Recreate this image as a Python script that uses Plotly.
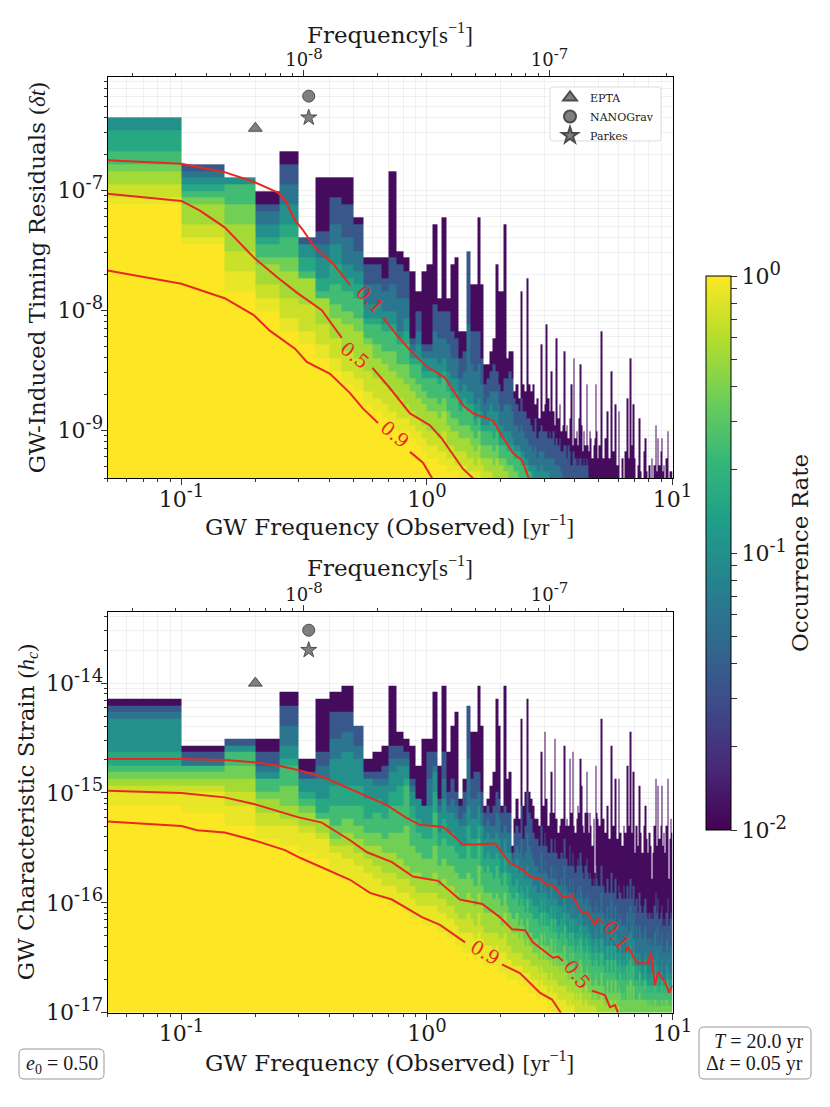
import numpy as np
import plotly.graph_objects as go

# Constants
WIDTH = 830
HEIGHT = 1107
SERIF = "DejaVu Serif"
MATH = "Liberation Serif"
RED = "#e8291f"
GRID = "rgba(0,0,0,0.055)"
INK = "#1a1a1a"
SECONDS_PER_YEAR = 3.156e7
N_ROWS = 60

# GW frequency bin edges [1/yr]
FREQ_EDGES = [round(0.05 * k, 2) for k in range(1, 101)] + [round(5.0 + 0.1 * k, 1) for k in range(1, 51)]

# log10 axis ranges
P1_YRANGE = [-9.4, -6.06]
P2_YRANGE = [-17.0, -13.35]

# occurrence rate painted in each band, from the top of a column downwards
BAND_RATES = [0.0115, 0.035, 0.06, 0.1, 0.16, 0.24, 0.37, 0.53, 0.7, 0.87, 1.0]

# Upper amplitude bin of each band per frequency bin: timing residuals panel
P1_TOP = [54, 47, 45, 43, 49, 36, 45, 45, 45, 39,
          33, 33, 33, 46, 34, 33, 31, 28, 31, 32,
          38, 27, 39, 27, 32, 33, 22, 22, 34, 29,
          29, 39, 29, 17, 17, 19, 21, 32, 28, 28,
          38, 18, 19, 19, 13, 14, 12, 28, 14, 13,
          30, 14, 13, 14, 11, 12, 9, 20, 10, 11,
          23, 12, 10, 16, 10, 8, 21, 9, 11, 7,
          8, 19, 7, 8, 6, 9, 14, 5, 18, 6,
          7, 5, 9, 17, 8, 4, 7, 5, 14, 5,
          4, 7, 6, 3, 5, 6, 14, 7, 3,
          5, 22, 3, 6, 10, 3, 16, 4, 11, 2,
          10, 0, 3, 0, 4, 12, 3, 18, 5, 11,
          3, 0, 2, 9, 1, 0, 4, 6, 1, 0,
          2, 0, 3, 0, 2, 8, 1, 6, 2, 4,
          6, 1, 2, 0, 3, 7, 0, 1, 1, 1]
P1_L1 = [54, 47, 45, 41, 47, 36, 37, 42, 41, 38,
         32, 32, 30, 33, 32, 31, 21, 25, 20, 20,
         26, 25, 25, 25, 22, 21, 18, 19, 34, 22,
         22, 22, 18, 14, 15, 16, 17, 16, 14, 13,
         15, 15, 16, 15, 12, 11, 10, 12, 10, 10,
         9, 9, 8, 7, 9, 6, 7, 8, 7, 7,
         7, 6, 7, 6, 7, 5, 6, 5, 6, 4,
         4, 5, 5, 3, 5, 4, 2, 4, 4, 3,
         2, 3, 2, 3, 2, 2, 3, 2, 3, 2]
P1_M2 = [54, 46, 45, 40, 44, 35, 35, 38, 36, 34,
         29, 29, 28, 29, 27, 27, 20, 22, 19, 19,
         22, 21, 21, 20, 18, 18, 15, 16, 23, 17,
         16, 17, 14, 11, 12, 13, 13, 13, 11, 10,
         11, 11, 11, 10, 8, 8, 7, 8, 7, 6,
         6, 5, 5, 4, 5, 3, 4, 4, 4, 3,
         3, 3, 3, 3, 3, 2, 2, 2, 2, 1]
P1_L2 = [54, 45, 45, 38, 41, 35, 33, 35, 32, 31,
         26, 26, 25, 25, 22, 24, 19, 20, 18, 18,
         18, 17, 18, 16, 15, 15, 13, 14, 13, 13,
         11, 12, 10, 9, 10, 11, 10, 10, 8, 8,
         7, 7, 7, 6, 5, 5, 5, 4, 4, 3,
         3, 2, 2, 2, 2, 1, 1, 2, 1, 1, 1, 1]
P1_M3 = [52, 44, 44, 36, 38, 33, 30, 32, 30, 29,
         24, 24, 23, 23, 21, 22, 18, 18, 16, 16,
         16, 15, 16, 14, 13, 13, 11, 12, 11, 11,
         9, 10, 8, 8, 8, 9, 8, 8, 6, 6,
         6, 5, 5, 5, 4, 4, 4, 3, 3, 2, 2, 1, 1]
P1_L3 = [49, 43, 44, 35, 36, 31, 28, 29, 28, 27,
         23, 23, 22, 22, 20, 20, 17, 17, 15, 15,
         15, 14, 15, 13, 12, 12, 10, 11, 10, 10,
         8, 9, 7, 7, 7, 7, 6, 7, 5, 5,
         5, 4, 4, 4, 3, 3, 3, 2, 2, 2, 1, 1]
P1_M4 = [47, 42, 41, 33, 33, 30, 27, 26, 25, 24,
         21, 20, 19, 19, 17, 17, 15, 14, 13, 12,
         12, 11, 12, 10, 9, 9, 8, 8, 8, 7,
         6, 7, 5, 5, 5, 5, 4, 5, 3, 3, 3, 2, 2, 2, 1, 1]
P1_L4 = [46, 41, 38, 32, 31, 30, 27, 24, 23, 22,
         20, 18, 17, 16, 15, 14, 13, 12, 11, 10,
         10, 9, 10, 8, 7, 7, 6, 6, 6, 5,
         4, 5, 3, 3, 3, 3, 2, 3, 2, 2, 1, 1]
P1_M5 = [44, 38, 34, 29, 27, 26, 23, 21, 19, 18,
         16, 15, 14, 13, 12, 11, 10, 9, 8, 7,
         7, 6, 7, 5, 5, 4, 4, 4, 3, 3, 2, 3, 2, 1, 1, 1]
P1_L5 = [42, 36, 31, 27, 24, 22, 20, 18, 16, 15,
         13, 12, 11, 10, 9, 9, 8, 7, 6, 5,
         5, 4, 4, 3, 3, 2, 2, 2, 1, 1, 1, 1]
P1_L6 = [41, 35, 28, 25, 22, 20, 18, 16, 14, 13,
         11, 10, 9, 8, 7, 7, 6, 5, 4, 3,
         3, 2, 2, 1, 1, 1]

# Same for the characteristic strain panel
P2_TOP = [47, 40, 41, 41, 48, 38, 47, 48, 49, 43,
          38, 39, 40, 49, 42, 41, 40, 37, 41, 41,
          48, 37, 49, 39, 43, 45, 32, 35, 46, 42,
          42, 49, 43, 31, 32, 34, 36, 47, 43, 31,
          49, 35, 36, 25, 29, 32, 29, 44, 31, 33,
          47, 33, 32, 31, 29, 29, 28, 39, 31, 42,
          32, 28, 30, 36, 30, 41, 29, 27, 28, 29,
          29, 40, 28, 29, 28, 38, 30, 39, 28, 27,
          29, 31, 30, 38, 34, 28, 27, 30, 36, 30,
          27, 30, 28, 25, 29, 21, 37, 30, 29,
          28, 44, 29, 27, 31, 26, 40, 28, 35, 26,
          35, 27, 25, 28, 27, 37, 28, 42, 27, 36,
          24, 28, 25, 34, 27, 24, 28, 31, 26, 24,
          27, 25, 20, 24, 28, 35, 25, 34, 26, 28,
          34, 25, 27, 24, 28, 35, 20, 26, 29, 27]
P2_L1 = [46, 39, 41, 39, 46, 36, 39, 45, 45, 43,
         36, 36, 37, 40, 40, 39, 35, 31, 31, 39,
         39, 32, 39, 33, 35, 33, 31, 33, 46, 35,
         36, 36, 33, 30, 31, 30, 31, 33, 32, 30,
         31, 30, 30, 24, 27, 28, 27, 31, 26, 28,
         33, 30, 29, 27, 26, 26, 25, 28, 25, 27,
         25, 24, 24, 26, 24, 26, 24, 23, 23, 24,
         23, 26, 23, 23, 22, 25, 22, 24, 22, 21,
         22, 23, 22, 24, 22, 21, 20, 22, 23, 21,
         20, 21, 20, 19, 20, 19, 22, 20, 19,
         19, 22, 19, 18, 20, 18, 21, 18, 20, 17,
         19, 18, 17, 19, 17, 19, 17, 20, 17, 19,
         16, 17, 15, 18, 16, 15, 16, 17, 15, 14,
         15, 14, 15, 14, 16, 18, 15, 17, 14, 15,
         16, 13, 14, 13, 15, 17, 13, 14, 15, 14]
P2_M2 = [45, 38, 40, 37, 43, 35, 37, 41, 42, 40,
         35, 35, 35, 38, 38, 38, 34, 31, 31, 35,
         37, 31, 35, 31, 32, 31, 29, 30, 38, 32,
         32, 33, 30, 28, 29, 28, 28, 30, 29, 27,
         28, 27, 27, 23, 24, 25, 24, 26, 23, 24,
         27, 25, 24, 23, 22, 22, 21, 24, 21, 23,
         21, 20, 20, 22, 20, 22, 20, 19, 19, 20,
         19, 22, 19, 19, 18, 20, 18, 20, 18, 17,
         18, 19, 17, 19, 18, 17, 16, 17, 18, 17,
         16, 17, 16, 15, 16, 15, 17, 16, 15,
         15, 18, 15, 14, 16, 14, 17, 14, 16, 13,
         15, 14, 13, 14, 13, 15, 12, 16, 13, 15,
         11, 13, 11, 13, 12, 11, 12, 13, 11, 10,
         11, 10, 11, 10, 12, 13, 10, 13, 10, 11,
         12, 9, 10, 9, 11, 12, 9, 10, 10, 9]
P2_L2 = [44, 37, 40, 36, 40, 35, 35, 38, 39, 38,
         35, 34, 34, 36, 37, 37, 33, 32, 31, 31,
         36, 30, 32, 30, 30, 29, 28, 28, 31, 29,
         29, 31, 28, 26, 27, 26, 26, 27, 26, 24,
         26, 24, 24, 22, 22, 23, 21, 22, 21, 20,
         22, 20, 20, 19, 19, 18, 18, 20, 18, 19,
         18, 17, 17, 19, 17, 18, 17, 16, 16, 16,
         15, 18, 16, 15, 15, 16, 14, 16, 14, 14,
         14, 15, 13, 15, 14, 13, 13, 13, 14, 13,
         12, 13, 12, 11, 12, 11, 13, 12, 11,
         11, 14, 11, 10, 12, 10, 13, 10, 12, 9,
         11, 10, 9, 10, 9, 11, 8, 12, 9, 11,
         7, 9, 7, 9, 8, 7, 8, 9, 7, 6,
         7, 6, 8, 6, 8, 9, 6, 9, 6, 7,
         8, 5, 6, 5, 7, 8, 5, 6, 6, 5]
P2_M3 = [39, 37, 39, 35, 38, 33, 32, 34, 34, 34,
         32, 32, 31, 33, 34, 35, 31, 29, 28, 28,
         33, 27, 29, 27, 27, 26, 25, 25, 28, 26,
         26, 28, 25, 23, 24, 23, 23, 24, 23, 21,
         23, 21, 21, 19, 19, 20, 18, 19, 18, 17,
         19, 17, 17, 16, 16, 16, 15, 17, 15, 17,
         15, 15, 14, 16, 14, 16, 14, 13, 13, 14,
         12, 15, 13, 13, 12, 14, 12, 14, 12, 11,
         12, 12, 11, 13, 12, 11, 10, 11, 12, 11,
         10, 11, 10, 9, 10, 9, 11, 10, 9,
         9, 11, 9, 8, 10, 8, 10, 8, 10, 7,
         9, 8, 7, 8, 7, 9, 6, 10, 7, 9,
         5, 7, 5, 7, 6, 5, 6, 7, 5, 4,
         5, 4, 6, 4, 6, 7, 4, 7, 4, 5,
         6, 4, 5, 4, 5, 6, 4, 4, 5, 4]
P2_L3 = [37, 37, 39, 35, 37, 32, 30, 31, 31, 31,
         29, 30, 29, 31, 31, 34, 29, 27, 26, 26,
         30, 25, 26, 25, 25, 24, 23, 23, 25, 23,
         23, 26, 22, 21, 22, 21, 20, 22, 20, 19,
         21, 19, 18, 17, 17, 18, 16, 17, 16, 15,
         17, 15, 15, 14, 14, 14, 13, 15, 13, 15,
         13, 13, 12, 14, 12, 14, 12, 11, 11, 12,
         10, 13, 11, 11, 10, 12, 10, 12, 10, 9,
         10, 10, 9, 11, 10, 9, 8, 9, 10, 9,
         8, 9, 8, 7, 8, 7, 9, 8, 7,
         7, 9, 7, 6, 8, 6, 8, 6, 8, 5,
         7, 6, 5, 6, 5, 7, 5, 8, 5, 7,
         4, 5, 4, 6, 4, 4, 5, 5, 4, 3,
         4, 3, 4, 3, 4, 5, 3, 5, 3, 4,
         5, 3, 4, 3, 4, 5, 3, 3, 4, 3]
P2_M4 = [36, 36, 37, 33, 34, 31, 29, 28, 29, 28,
         27, 27, 26, 27, 27, 28, 25, 24, 23, 23,
         25, 22, 23, 22, 22, 21, 20, 20, 21, 20,
         19, 22, 19, 18, 18, 18, 17, 18, 17, 16,
         18, 16, 15, 14, 14, 15, 13, 14, 13, 12,
         14, 12, 12, 11, 11, 11, 10, 12, 10, 12,
         10, 10, 9, 11, 9, 11, 9, 9, 8, 9,
         8, 10, 8, 8, 7, 9, 7, 9, 7, 6,
         7, 7, 6, 8, 7, 6, 5, 6, 7, 6,
         5, 6, 5, 4, 5, 4, 6, 5, 4,
         4, 6, 4, 3, 5, 3, 5, 3, 5, 3,
         4, 3, 2, 3, 2, 4, 2, 5, 2, 4,
         2, 2, 2, 3, 2, 2, 2, 2, 2, 1,
         2, 1, 2, 1, 2, 2, 1, 2, 1, 2,
         2, 1, 2, 1, 2, 2, 1, 1, 2, 1]
P2_L4 = [35, 35, 35, 32, 31, 30, 29, 26, 27, 26,
         25, 25, 24, 24, 23, 22, 21, 21, 20, 20,
         21, 19, 20, 19, 19, 18, 17, 17, 18, 17,
         16, 18, 16, 15, 15, 15, 15, 15, 14, 13,
         15, 13, 13, 12, 12, 12, 11, 12, 11, 10,
         11, 10, 10, 9, 9, 9, 8, 10, 8, 9,
         8, 8, 7, 8, 7, 8, 7, 7, 6, 7,
         6, 7, 6, 6, 5, 6, 5, 6, 5, 4,
         5, 4, 4, 5, 4, 3, 3, 4, 4, 3,
         3, 3, 3, 2, 3, 2, 3, 2, 2,
         2, 3, 2, 1, 2, 1, 2, 1, 2, 1, 1]
P2_M5 = [34, 34, 33, 30, 29, 28, 27, 25, 25, 24,
         23, 22, 21, 21, 20, 20, 19, 18, 18, 18,
         18, 17, 17, 16, 16, 15, 14, 14, 15, 14,
         13, 15, 13, 12, 12, 12, 12, 12, 11, 11,
         12, 10, 10, 9, 9, 9, 9, 9, 8, 8,
         8, 8, 7, 7, 7, 7, 6, 7, 6, 6,
         6, 5, 5, 6, 5, 5, 5, 4, 4, 4,
         4, 4, 4, 3, 3, 4, 3, 3, 3, 2,
         3, 2, 2, 3, 2, 1, 1, 2, 2, 1,
         1, 1, 1, 1, 1, 1, 1]
P2_L5 = [33, 33, 31, 28, 28, 27, 26, 24, 23, 22,
         21, 20, 19, 19, 18, 18, 17, 16, 16, 16,
         16, 15, 15, 14, 14, 13, 12, 12, 12, 12,
         11, 12, 11, 10, 10, 10, 9, 10, 9, 9,
         9, 8, 8, 7, 7, 7, 7, 7, 6, 6,
         6, 6, 5, 5, 5, 5, 4, 5, 4, 4,
         4, 3, 3, 4, 3, 3, 3, 2, 2, 2,
         2, 2, 2, 1, 1, 2, 1, 1, 1]
P2_L6 = [31, 30, 28, 26, 25, 24, 23, 21, 20, 19,
         18, 18, 17, 16, 16, 15, 14, 14, 13, 13,
         13, 12, 12, 11, 11, 10, 10, 9, 9, 9,
         8, 9, 8, 7, 7, 7, 7, 7, 6, 6,
         6, 5, 5, 5, 5, 5, 4, 5, 4, 4,
         4, 3, 3, 3, 3, 2, 2, 3, 2, 2,
         2, 1, 1, 1]

# Occurrence rate contours: frequency [1/yr] and log10 amplitude, None at label gaps
P1_C01_F = [0.05, 0.1, 0.15, 0.197, 0.247, 0.264, 0.29, 0.312, 0.35, 0.414, 0.486, None,
            0.662, 0.755, 0.869, 1.0, 1.18, 1.40, 1.54, 1.86, 2.04, 2.24, 2.44, 2.60]
P1_C01_Y = [-6.75, -6.78, -6.85, -6.93, -7.02, -7.08, -7.25, -7.33, -7.48, -7.61, -7.79, None,
            -8.06, -8.21, -8.35, -8.47, -8.56, -8.79, -8.86, -8.92, -9.06, -9.19, -9.25, -9.40]
P1_C05_F = [0.05, 0.1, 0.119, 0.15, 0.197, 0.247, 0.298, 0.373, 0.45, None,
            0.60, 0.707, 0.853, 1.03, 1.15, 1.28, 1.40, 1.54]
P1_C05_Y = [-7.03, -7.09, -7.17, -7.31, -7.56, -7.73, -7.86, -8.0, -8.23, None,
            -8.48, -8.65, -8.86, -8.96, -9.07, -9.21, -9.32, -9.40]
P1_C09_F = [0.05, 0.1, 0.15, 0.197, 0.229, 0.29, 0.324, 0.403, 0.486, 0.549, 0.632, None,
            0.853, 0.963, 1.05]
P1_C09_Y = [-7.67, -7.78, -7.90, -8.04, -8.17, -8.32, -8.43, -8.53, -8.69, -8.82, -8.94, None,
            -9.18, -9.27, -9.40]
P2_C01_F = [0.05, 0.1, 0.15, 0.197, 0.247, 0.298, 0.373, 0.486, 0.586, 0.687, 0.829, 0.936, 1.16,
            1.21, 1.40, 1.61, 1.89, 2.18, 2.39, 2.68, 2.89, 3.08, 3.26, 3.58, 3.90, 4.28, 4.48,
            4.83, 4.97, 5.21, None, 6.41, 6.59, 7.17, 7.95, 8.17, 8.49, 8.73, 9.32, 9.68, 10.0]
P2_C01_Y = [-14.69, -14.69, -14.70, -14.72, -14.75, -14.79, -14.85, -14.96, -15.04, -15.11, -15.23,
            -15.29, -15.31, -15.34, -15.47, -15.47, -15.46, -15.64, -15.68, -15.77, -15.78, -15.84,
            -15.84, -15.95, -15.93, -16.09, -16.08, -16.20, -16.14, -16.18, None, -16.45, -16.40,
            -16.55, -16.55, -16.45, -16.75, -16.63, -16.72, -16.82, -16.75]
P2_C05_F = [0.05, 0.1, 0.15, 0.197, 0.298, 0.373, 0.486, 0.57, 0.72, 0.877, 1.11, 1.36, 1.68, 1.98,
            2.22, 2.51, 2.70, 3.26, 3.42, 3.58, None, 4.70, 5.31, 5.56, 5.83, 6.0]
P2_C05_Y = [-14.98, -15.0, -15.04, -15.10, -15.22, -15.27, -15.43, -15.54, -15.63, -15.76, -15.80,
            -15.97, -16.01, -16.13, -16.24, -16.25, -16.36, -16.50, -16.49, -16.53, None, -16.80,
            -16.84, -16.95, -16.93, -17.0]
P2_C09_F = [0.05, 0.1, 0.116, 0.15, 0.197, 0.264, 0.304, 0.486, 0.586, 0.72, 0.954, 1.13, 1.43, None,
            2.02, 2.39, 2.89, 3.23, 3.51]
P2_C09_Y = [-15.26, -15.30, -15.34, -15.36, -15.43, -15.52, -15.59, -15.79, -15.91, -15.97, -16.13,
            -16.20, -16.36, None, -16.56, -16.64, -16.82, -16.88, -17.0]

# Contour labels: text, log10 frequency, log10 amplitude, angle
P1_LABELS = [("0.1", -0.232, -7.91, 46), ("0.5", -0.293, -8.37, 40), ("0.9", -0.13, -9.03, 40)]
P2_LABELS = [("0.9", 0.236, -16.45, 30), ("0.5", 0.611, -16.65, 52), ("0.1", 0.774, -16.29, 52)]

# Pulsar timing array limits
PTA_NAMES = ["EPTA", "NANOGrav", "Parkes"]
PTA_SYMBOLS = ["triangle-up", "circle", "star"]
PTA_SIZES = [12, 12, 12]
PTA_FREQS = [0.2, 0.33, 0.33]
P1_PTA_VALUES = [3.28e-7, 6.07e-7, 4.02e-7]
P2_PTA_VALUES = [1.0e-14, 3.03e-14, 2.0e-14]

COLORBAR_DECADES = [-2, -1]

X_TITLE = f'GW Frequency (Observed) <span style="font-family:{MATH}">[yr<sup>−1</sup>]</span>'
TOP_TITLE = f'Frequency<span style="font-family:{MATH}">[s<sup>−1</sup>]</span>'


def tick_label(exponent, sup_size):
    return f'10<sup><span style="font-size:{sup_size}px">{exponent}</span></sup>'


def band_grid(levels):
    # stack the bands top down, each one overwriting the column below its upper bin
    grid = np.full((N_ROWS, len(FREQ_EDGES) - 1), np.nan)
    for heights, rate in zip(levels, BAND_RATES):
        for col, height in enumerate(heights):
            grid[:height, col] = np.log10(rate)
    return grid


def powers(values):
    return [None if v is None else 10.0 ** v for v in values]


def minor_ticks(low, high):
    ticks = []
    for exponent in range(int(np.floor(low)), int(np.ceil(high)) + 1):
        for m in range(2, 10):
            value = m * 10.0 ** exponent
            if low <= np.log10(value) <= high:
                ticks.append(value)
    return ticks


def major_ticks(low, high, sup_size):
    exps = [e for e in range(int(np.floor(low)), int(np.ceil(high)) + 1) if low - 1e-6 <= e <= high + 1e-6]
    return [10.0 ** e for e in exps], [tick_label(e, sup_size) for e in exps]


def rounded(x0, y0, x1, y1, r=5):
    # pixel box to a rounded rectangle path in paper coordinates
    def px(x, y):
        return f"{x / WIDTH:.5f},{1 - y / HEIGHT:.5f}"

    return (
        f"M{px(x0 + r, y0)} L{px(x1 - r, y0)} Q{px(x1, y0)} {px(x1, y0 + r)} "
        f"L{px(x1, y1 - r)} Q{px(x1, y1)} {px(x1 - r, y1)} L{px(x0 + r, y1)} "
        f"Q{px(x0, y1)} {px(x0, y1 - r)} L{px(x0, y0 + r)} Q{px(x0, y0)} {px(x0 + r, y0)} Z"
    )


def add_panel(fig, xname, yname, topname, yrange, levels, contours, labels, pta_values, showlegend):
    step = (yrange[1] - yrange[0]) / N_ROWS
    y_edges = [10.0 ** (yrange[0] + step * r) for r in range(N_ROWS + 1)]
    fig.add_trace(
        go.Heatmap(
            x=FREQ_EDGES,
            y=y_edges,
            z=band_grid(levels),
            coloraxis="coloraxis",
            hoverinfo="skip",
            xaxis=xname,
            yaxis=yname,
        )
    )
    for freqs, values in contours:
        fig.add_trace(
            go.Scatter(
                x=freqs,
                y=powers(values),
                mode="lines",
                line=dict(color=RED, width=2),
                connectgaps=False,
                showlegend=False,
                hoverinfo="skip",
                xaxis=xname,
                yaxis=yname,
            )
        )
    for name, symbol, size, freq, value in zip(PTA_NAMES, PTA_SYMBOLS, PTA_SIZES, PTA_FREQS, pta_values):
        fig.add_trace(
            go.Scatter(
                x=[freq],
                y=[value],
                name=name,
                mode="markers",
                marker=dict(symbol=symbol, size=size, color="#7f7f7f", line=dict(color="#4d4d4d", width=1)),
                showlegend=showlegend,
                xaxis=xname,
                yaxis=yname,
            )
        )
    # keeps the top frequency axis alive
    fig.add_trace(
        go.Scatter(
            x=[FREQ_EDGES[0] / SECONDS_PER_YEAR, FREQ_EDGES[-1] / SECONDS_PER_YEAR],
            y=[10.0 ** yrange[0], 10.0 ** yrange[0]],
            mode="lines",
            opacity=0,
            showlegend=False,
            hoverinfo="skip",
            xaxis=topname,
            yaxis=yname,
        )
    )
    for text, lx, ly, angle in labels:
        fig.add_annotation(
            x=lx,
            y=ly,
            xref=xname,
            yref=yname,
            text=text,
            textangle=angle,
            showarrow=False,
            font=dict(family=SERIF, size=19, color=RED),
        )


def bottom_axis(domain):
    low, high = np.log10(FREQ_EDGES[0]), np.log10(FREQ_EDGES[-1])
    vals, text = major_ticks(low, high, 18)
    return dict(
        type="log",
        range=[low, high],
        domain=domain,
        automargin=False,
        showline=True,
        linecolor="black",
        linewidth=1,
        mirror=True,
        ticks="outside",
        ticklen=6,
        tickcolor="#333333",
        tickmode="array",
        tickvals=vals,
        ticktext=text,
        ticklabelstandoff=-5,
        tickfont=dict(family=SERIF, size=22, color=INK),
        showgrid=True,
        gridcolor=GRID,
        zeroline=False,
        minor=dict(
            tickmode="array",
            tickvals=minor_ticks(low, high),
            ticks="outside",
            ticklen=3,
            tickcolor="#333333",
            showgrid=True,
            gridcolor=GRID,
        ),
    )


def top_axis(overlay, anchor):
    low = np.log10(FREQ_EDGES[0] / SECONDS_PER_YEAR)
    high = np.log10(FREQ_EDGES[-1] / SECONDS_PER_YEAR)
    vals, text = major_ticks(low, high, 15)
    return dict(
        type="log",
        range=[low, high],
        overlaying=overlay,
        anchor=anchor,
        automargin=False,
        side="top",
        ticks="outside",
        ticklen=6,
        tickcolor="#333333",
        tickmode="array",
        tickvals=vals,
        ticktext=text,
        ticklabelstandoff=-3,
        tickfont=dict(family=SERIF, size=18, color=INK),
        showgrid=False,
        zeroline=False,
        minor=dict(tickmode="array", tickvals=minor_ticks(low, high), ticks="outside", ticklen=3, tickcolor="#333333"),
    )


def left_axis(yrange, domain, title, standoff):
    vals, text = major_ticks(yrange[0], yrange[1], 18)
    return dict(
        type="log",
        range=yrange,
        domain=domain,
        automargin=False,
        showline=True,
        linecolor="black",
        linewidth=1,
        mirror=True,
        ticks="outside",
        ticklen=6,
        tickcolor="#333333",
        tickmode="array",
        tickvals=vals,
        ticktext=text,
        ticklabelstandoff=-7,
        tickfont=dict(family=SERIF, size=22, color=INK),
        showgrid=True,
        gridcolor=GRID,
        zeroline=False,
        minor=dict(
            tickmode="array",
            tickvals=minor_ticks(yrange[0], yrange[1]),
            ticks="outside",
            ticklen=3,
            tickcolor="#333333",
            showgrid=True,
            gridcolor=GRID,
        ),
        title=dict(text=title, font=dict(family=SERIF, size=23, color=INK), standoff=standoff),
    )


def colorbar_ticks():
    vals, text = [], []
    for exponent in COLORBAR_DECADES:
        vals.append(float(exponent))
        text.append(tick_label(exponent, 18))
        for m in range(2, 10):
            vals.append(float(np.log10(m * 10.0 ** exponent)))
            text.append("")
    vals.append(0.0)
    text.append(tick_label(0, 18))
    return vals, text


def generate_plot():
    fig = go.Figure()

    add_panel(
        fig, "x", "y", "x3", P1_YRANGE,
        [P1_TOP, P1_L1, P1_M2, P1_L2, P1_M3, P1_L3, P1_M4, P1_L4, P1_M5, P1_L5, P1_L6],
        [(P1_C01_F, P1_C01_Y), (P1_C05_F, P1_C05_Y), (P1_C09_F, P1_C09_Y)],
        P1_LABELS, P1_PTA_VALUES, True,
    )
    add_panel(
        fig, "x2", "y2", "x4", P2_YRANGE,
        [P2_TOP, P2_L1, P2_M2, P2_L2, P2_M3, P2_L3, P2_M4, P2_L4, P2_M5, P2_L5, P2_L6],
        [(P2_C01_F, P2_C01_Y), (P2_C05_F, P2_C05_Y), (P2_C09_F, P2_C09_Y)],
        P2_LABELS, P2_PTA_VALUES, False,
    )

    x_domain = [107.5 / WIDTH, 672.5 / WIDTH]
    p1_domain = [1 - 478.3 / HEIGHT, 1 - 77.3 / HEIGHT]
    p2_domain = [1 - 1012.7 / HEIGHT, 1 - 611.7 / HEIGHT]
    tick_vals, tick_text = colorbar_ticks()

    fig.update_layout(
        width=WIDTH,
        height=HEIGHT,
        autosize=False,
        margin=dict(l=0, r=0, t=0, b=0),
        paper_bgcolor="white",
        plot_bgcolor="white",
        xaxis=dict(bottom_axis(x_domain), anchor="y"),
        xaxis2=dict(bottom_axis(x_domain), anchor="y2"),
        xaxis3=top_axis("x", "y"),
        xaxis4=top_axis("x2", "y2"),
        yaxis=dict(
            left_axis(
                P1_YRANGE, p1_domain,
                f'GW-Induced Timing Residuals <span style="font-family:{MATH}">(<i>δt</i>)</span>', 5,
            ),
            anchor="x",
        ),
        yaxis2=dict(
            left_axis(
                P2_YRANGE, p2_domain,
                f'GW Characteristic Strain <span style="font-family:{MATH}">(<i>h<sub>c</sub></i>)</span>', 5,
            ),
            anchor="x2",
        ),
        coloraxis=dict(
            colorscale="Viridis",
            cmin=-2,
            cmax=0,
            colorbar=dict(
                x=705.5 / WIDTH,
                xanchor="left",
                xpad=0,
                y=1 - 553.25 / HEIGHT,
                yanchor="middle",
                ypad=0,
                thickness=25,
                len=553.5,
                lenmode="pixels",
                outlinecolor="black",
                outlinewidth=1,
                ticks="outside",
                ticklen=6,
                tickcolor="#333333",
                tickmode="array",
                tickvals=tick_vals,
                ticktext=tick_text,
                tickfont=dict(family=SERIF, size=22, color=INK),
            ),
        ),
        legend=dict(
            x=550 / WIDTH,
            xanchor="left",
            y=1 - 83 / HEIGHT,
            yanchor="top",
            bgcolor="rgba(0,0,0,0)",
            borderwidth=0,
            font=dict(family=SERIF, size=11, color=INK),
            itemsizing="constant",
            tracegroupgap=0,
        ),
        shapes=[
            dict(type="path", xref="paper", yref="paper", path=rounded(550, 87, 661, 141, 3),
                 fillcolor="white", line=dict(color="#dddddd", width=1), layer="above"),
            dict(type="path", xref="paper", yref="paper", path=rounded(19, 1049, 104, 1079),
                 fillcolor="white", line=dict(color="#999999", width=1), layer="above"),
            dict(type="path", xref="paper", yref="paper", path=rounded(699, 1027, 811, 1079),
                 fillcolor="white", line=dict(color="#999999", width=1), layer="above"),
        ],
    )

    for text, ypos in [(TOP_TITLE, 33), (X_TITLE, 525), (TOP_TITLE, 566), (X_TITLE, 1061)]:
        fig.add_annotation(
            x=389.5 / WIDTH, y=1 - ypos / HEIGHT, xref="paper", yref="paper", showarrow=False,
            xanchor="center", yanchor="middle",
            text=text, font=dict(family=SERIF, size=23, color=INK),
        )
    fig.add_annotation(
        x=800 / WIDTH, y=1 - 553 / HEIGHT, xref="paper", yref="paper", showarrow=False,
        xanchor="center", yanchor="middle", textangle=-90,
        text="Occurrence Rate", font=dict(family=SERIF, size=23, color=INK),
    )
    fig.add_annotation(
        x=61.5 / WIDTH, y=1 - 1064 / HEIGHT, xref="paper", yref="paper", showarrow=False,
        xanchor="center", yanchor="middle",
        text="<i>e</i><sub>0</sub> = 0.50", font=dict(family=MATH, size=20, color=INK),
    )
    for text, ypos in [("<i>T</i> = 20.0 yr", 1041), ("Δ<i>t</i> = 0.05 yr", 1063)]:
        fig.add_annotation(
            x=805 / WIDTH, y=1 - ypos / HEIGHT, xref="paper", yref="paper", showarrow=False,
            xanchor="right", yanchor="middle",
            text=text, font=dict(family=MATH, size=20, color=INK),
        )
    return fig


if __name__ == "__main__":
    fig = generate_plot()
    fig.write_html(
        "out.html",
        config=dict(displayModeBar=False),
        post_script="document.body.style.margin='0';",
    )
